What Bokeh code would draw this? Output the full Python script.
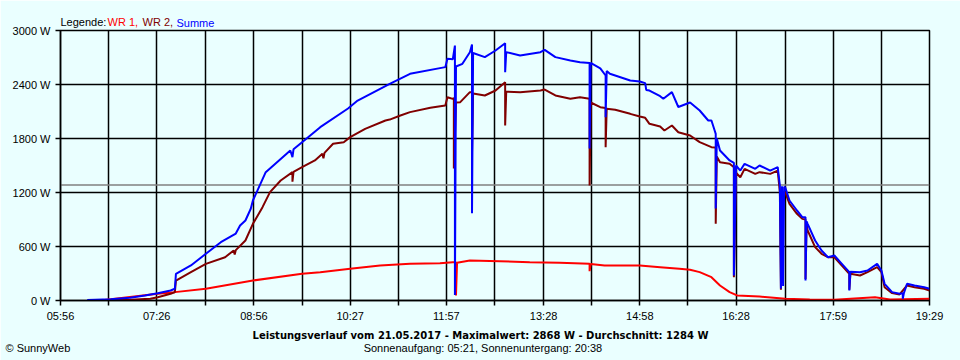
from bokeh.plotting import figure
from bokeh.models import Range1d, FixedTicker, Label
from bokeh.embed import file_html
from bokeh.resources import INLINE

# ---------------- data ----------------
X_TICK_LABELS = ["05:56", "07:26", "08:56", "10:27", "11:57",
                 "13:28", "14:58", "16:28", "17:59", "19:29"]
Y_TICKS = [0, 600, 1200, 1800, 2400, 3000]
AVERAGE_W = 1284
MAX_W = 2868
DATE = "21.05.2017"
SUNRISE = "05:21"
SUNSET = "20:38"
SERIES_NAMES = ["WR 1", "WR 2", "Summe"]

# WR 1 (red)
T_WR1 = ["06:33", "07:27", "07:43", "08:12", "08:56", "09:42", "09:59", "10:27",
         "10:55", "11:23", "11:51", "12:03", "12:06", "12:06", "12:07", "12:19",
         "12:47", "13:15", "13:43", "14:11", "14:11", "14:12", "14:25", "14:39",
         "14:58", "15:17", "15:35", "15:45", "15:54", "16:05", "16:13", "16:22",
         "16:29", "16:50", "17:14", "17:37", "18:00", "18:38", "18:52", "19:29"]
WR1 = [0, 74, 93, 130, 222, 296, 315, 352,
       389, 407, 415, 426, 426, 55, 420, 444,
       437, 426, 419, 407, 326, 405, 389, 389,
       389, 370, 352, 341, 315, 259, 167, 93,
       56, 44, 19, 11, 7, 37, 11, 19]

# WR 2 (dark red)
T_WR2 = ["06:29", "07:01", "07:20", "07:27", "07:39", "07:43", "07:44", "07:58",
         "08:12", "08:30", "08:38", "08:39", "08:40", "08:49", "08:56", "09:05",
         "09:12", "09:22", "09:33", "09:33", "09:34", "09:42", "09:54", "10:01",
         "10:02", "10:03", "10:11", "10:21", "10:27", "10:41", "11:00", "11:04",
         "11:14", "11:23", "11:42", "11:56", "11:58", "12:03", "12:04", "12:04",
         "12:06", "12:10", "12:19", "12:21", "12:21", "12:22", "12:33", "12:43",
         "12:52", "12:52", "12:53", "13:06", "13:25", "13:29", "13:39", "13:53",
         "14:02", "14:11", "14:11", "14:12", "14:21", "14:26", "14:26", "14:27",
         "14:35", "14:49", "14:58", "15:03", "15:07", "15:17", "15:21", "15:28",
         "15:34", "15:45", "15:54", "16:05", "16:09", "16:09", "16:10", "16:13",
         "16:22", "16:26", "16:26", "16:28", "16:32", "16:36", "16:46", "16:50",
         "17:00", "17:07", "17:09", "17:10", "17:11", "17:14", "17:18", "17:25",
         "17:30", "17:33", "17:33", "17:34", "17:35", "17:42", "17:48", "17:54",
         "18:00", "18:07", "18:14", "18:14", "18:15", "18:24", "18:31", "18:40",
         "18:44", "18:47", "18:54", "19:01", "19:08", "19:15", "19:24", "19:29"]
WR2 = [0, 7, 19, 37, 74, 93, 222, 315,
       407, 481, 556, 510, 560, 667, 852, 1037,
       1204, 1333, 1426, 1320, 1430, 1481, 1556, 1630,
       1580, 1640, 1741, 1759, 1815, 1907, 2000, 2010,
       2056, 2093, 2141, 2167, 2259, 2240, 2250, 1467,
       2200, 2204, 2315, 2315, 1648, 2300, 2278, 2333,
       2426, 1944, 2320, 2315, 2333, 2344, 2278, 2241,
       2259, 2241, 1278, 2200, 2148, 2140, 1704, 2130,
       2119, 2074, 2044, 2030, 1963, 1933, 1889, 1944,
       1870, 1833, 1759, 1704, 1700, 852, 1600, 1537,
       1519, 1480, 259, 1420, 1370, 1463, 1407, 1426,
       1407, 1444, 1204, 120, 1200, 1204, 1074, 963,
       907, 900, 240, 850, 778, 593, 519, 481,
       481, 389, 296, 120, 296, 278, 315, 370,
       315, 148, 82, 67, 167, 148, 130, 111]

# Summe (blue)
T_SUM = ["06:21", "06:43", "07:01", "07:15", "07:27", "07:39", "07:43", "07:44",
         "07:58", "08:12", "08:26", "08:40", "08:44", "08:49", "08:54", "08:56",
         "09:08", "09:31", "09:33", "09:34", "09:42", "09:59", "10:25", "10:34",
         "11:04", "11:23", "11:56", "11:58", "12:03", "12:05", "12:05", "12:06",
         "12:12", "12:19", "12:21", "12:21", "12:22", "12:33", "12:43", "12:52",
         "12:52", "12:53", "13:06", "13:25", "13:29", "13:39", "13:53", "14:02",
         "14:11", "14:11", "14:12", "14:21", "14:26", "14:26", "14:27", "14:30",
         "14:49", "14:58", "15:03", "15:04", "15:07", "15:17", "15:20", "15:28",
         "15:34", "15:45", "15:54", "16:02", "16:05", "16:08", "16:09", "16:09",
         "16:10", "16:13", "16:22", "16:26", "16:26", "16:28", "16:32", "16:36",
         "16:46", "16:50", "17:00", "17:07", "17:09", "17:10", "17:11", "17:12",
         "17:13", "17:14", "17:18", "17:25", "17:30", "17:33", "17:33", "17:34",
         "17:35", "17:42", "17:48", "17:54", "18:00", "18:07", "18:14", "18:14",
         "18:15", "18:24", "18:31", "18:40", "18:44", "18:47", "18:54", "19:01",
         "19:04", "19:04", "19:05", "19:08", "19:15", "19:24", "19:29"]
SUMME = [5, 15, 30, 56, 81, 111, 130, 296,
         389, 519, 648, 744, 833, 889, 1019, 1111,
         1426, 1667, 1593, 1680, 1759, 1926, 2133, 2222,
         2407, 2519, 2593, 2685, 2680, 2833, 60, 2600,
         2630, 2759, 2844, 970, 2750, 2704, 2778, 2859,
         2537, 2760, 2722, 2759, 2785, 2704, 2667, 2648,
         2640, 1689, 2640, 2580, 2500, 2037, 2550, 2519,
         2444, 2433, 2415, 2340, 2333, 2270, 2241, 2315,
         2150, 2200, 2111, 2000, 2000, 1889, 1852, 1022,
         1800, 1667, 1556, 1530, 278, 1500, 1444, 1519,
         1463, 1500, 1444, 1481, 1278, 133, 1270, 160,
         1260, 1259, 1111, 1000, 926, 926, 222, 880,
         852, 667, 556, 481, 500, 407, 315, 111,
         320, 315, 333, 407, 333, 185, 93, 74,
         80, 20, 80, 185, 167, 148, 130]


def mins(s):
    h, m = s.split(":")
    return int(h) * 60 + int(m)


BG = "#EAFFFF"
FONT = "Liberation Sans"
BOLD_FONT = "DejaVu Sans"
C_WR1, C_WR2, C_SUM = "#FF0000", "#800000", "#0000FF"

x0, x1 = mins(X_TICK_LABELS[0]), mins(X_TICK_LABELS[-1])
n_int = 2 * (len(X_TICK_LABELS) - 1)
grid_ticks = [round(x0 + k * (x1 - x0) / n_int) for k in range(n_int + 1)]
x_over = {}
for k, t in enumerate(grid_ticks):
    x_over[t] = X_TICK_LABELS[k // 2] if k % 2 == 0 else ""

p = figure(width=960, height=360, output_backend="svg", toolbar_location=None,
           x_range=Range1d(x0, x1), y_range=Range1d(Y_TICKS[0], Y_TICKS[-1]),
           min_border_left=60, min_border_right=30, min_border_top=30,
           min_border_bottom=60, background_fill_color=BG, border_fill_color=BG)
p.outline_line_color = "black"
p.outline_line_width = 1.5

for ax in (p.xaxis[0], p.yaxis[0]):
    ax.axis_line_color = "black"
    ax.axis_line_width = 1.5
    ax.major_tick_line_color = "black"
    ax.major_tick_line_width = 1.5
    ax.major_tick_in = 0
    ax.major_tick_out = 5
    ax.minor_tick_line_color = None
    ax.major_label_text_font = FONT
    ax.major_label_text_font_size = "11px"
    ax.major_label_text_color = "black"
    ax.major_label_standoff = 5
p.xaxis[0].major_label_standoff = 4

p.xaxis[0].ticker = FixedTicker(ticks=grid_ticks)
p.xaxis[0].major_label_overrides = x_over
p.yaxis[0].ticker = FixedTicker(ticks=Y_TICKS)
p.yaxis[0].major_label_overrides = {v: f"{v} W" for v in Y_TICKS}

p.xgrid[0].ticker = FixedTicker(ticks=grid_ticks)
p.ygrid[0].ticker = FixedTicker(ticks=Y_TICKS)
for g in (p.xgrid[0], p.ygrid[0]):
    g.grid_line_color = "black"
    g.grid_line_alpha = 1.0
    g.grid_line_width = 1.5

# average line
p.line([x0, x1], [AVERAGE_W, AVERAGE_W], line_color="#808080", line_width=1.5)

p.line([mins(t) for t in T_WR1], WR1, line_color=C_WR1, line_width=2)
p.line([mins(t) for t in T_WR2], WR2, line_color=C_WR2, line_width=2)
p.line([mins(t) for t in T_SUM], SUMME, line_color=C_SUM, line_width=2)


# ---------------- texts: Labels in the side panels (not clipped there) ----------------
def lab(where, x, y, text, color="black", style="normal", align="left",
        size="11px", font=FONT):
    p.add_layout(Label(x=x, y=y, x_units="screen", y_units="screen", text=text,
                       text_color=color, text_font=font, text_font_size=size,
                       text_font_style=style, text_align=align,
                       text_baseline="alphabetic"), where)


NB = "\u00a0"
lab("above", 0, 9, "Legende:")
lab("above", 116, -4, SERIES_NAMES[2], C_SUM)
lab("right", -822, 279, SERIES_NAMES[0] + ",", C_WR1)
lab("below", 420, 0,
    f"Leistungsverlauf vom {DATE} - Maximalwert: {MAX_W} W - Durchschnitt: {AVERAGE_W} W",
    style="bold", align="center", size="10px", font=BOLD_FONT)
lab("below", -55, 0,
    "\u00a9 SunnyWeb" + NB * 96 + f"Sonnenaufgang: {SUNRISE}, Sonnenuntergang: {SUNSET}")
lab("below", 82, 338, SERIES_NAMES[1] + ",", C_WR2)

open("out.html", "w").write(file_html(p, INLINE))
